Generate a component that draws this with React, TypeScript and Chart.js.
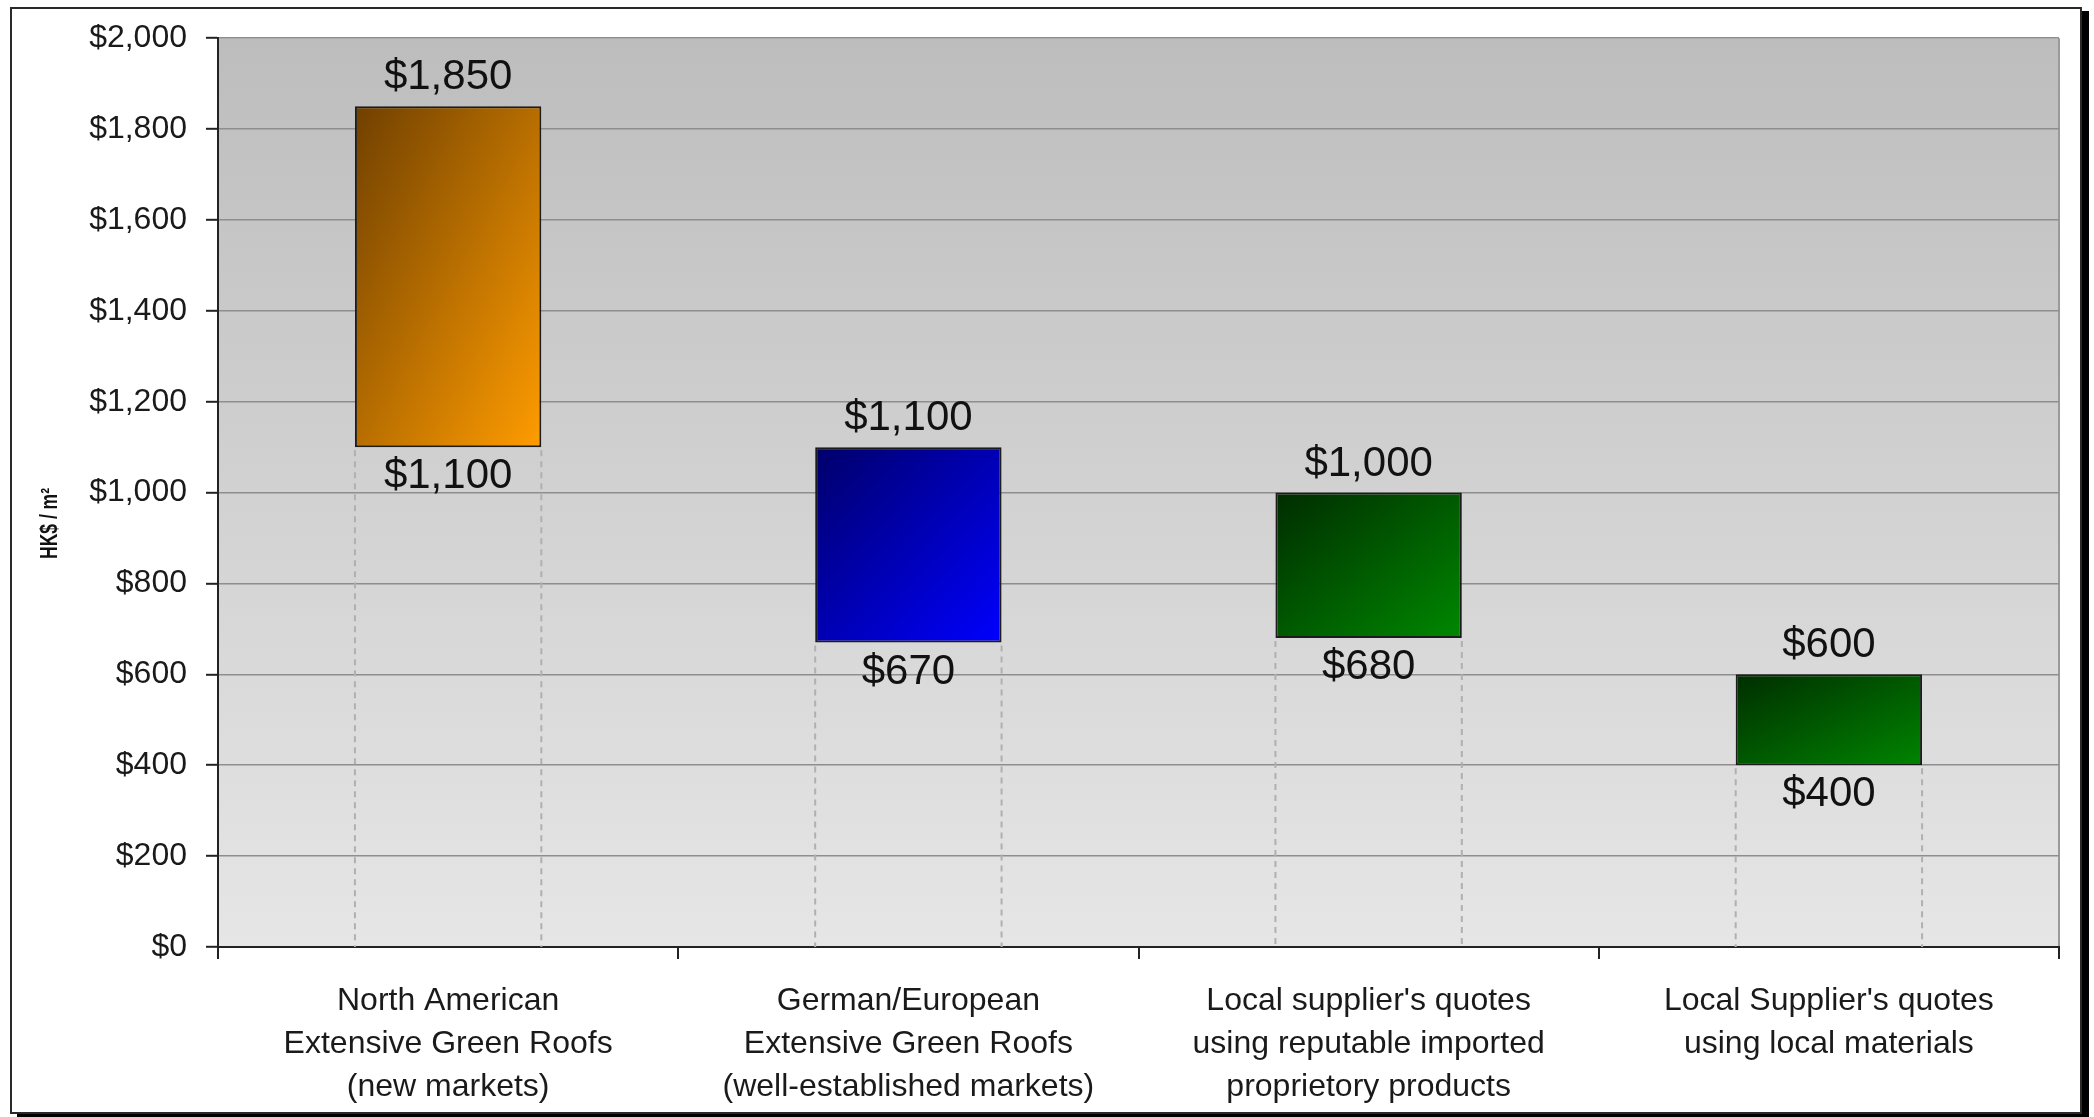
import React, { useEffect, useRef } from "react";
import { Chart, registerables } from "chart.js";

Chart.register(...registerables);

// ---------- data ----------
const categories: string[][] = [
  ["North American", "Extensive Green Roofs", "(new markets)"],
  ["German/European", "Extensive Green Roofs", "(well-established markets)"],
  ["Local supplier's quotes", "using reputable imported", "proprietory products"],
  ["Local Supplier's quotes", "using local materials"],
];
const lowValues: number[] = [1100, 670, 680, 400];
const highValues: number[] = [1850, 1100, 1000, 600];
const yMin = 0;
const yMax = 2000;
const yStep = 200;
const yAxisTitle = "HK$ / m\u00B2";

// ---------- styles ----------
const W = 2094;
const H = 1117;
const FONT = "'Liberation Sans', Arial, Helvetica, sans-serif";
const barStartColors = ["#704000", "#00006a", "#002c00", "#002e00"];
const barEndColors = ["#ff9c00", "#0000ff", "#008800", "#008400"];
const BAR_PCT = 0.405;

const fmt = (v: number) => "$" + Number(v).toLocaleString("en-US");

const framePlugin = {
  id: "frameAndBackground",
  beforeDraw(chart: any) {
    const { ctx, chartArea: a } = chart;
    if (!a) return;
    ctx.save();
    ctx.fillStyle = "#ffffff";
    ctx.fillRect(0, 0, W, H);
    ctx.fillStyle = "#000000";
    ctx.fillRect(17, 11, 2072, 1110);
    ctx.fillStyle = "#ffffff";
    ctx.fillRect(10, 7, 2072, 1107);
    ctx.strokeStyle = "#2a2a2a";
    ctx.lineWidth = 2;
    ctx.strokeRect(11, 8, 2070, 1105);
    const g = ctx.createLinearGradient(0, a.top, 0, a.bottom);
    g.addColorStop(0, "#bdbdbd");
    g.addColorStop(1, "#e6e6e6");
    ctx.fillStyle = g;
    ctx.fillRect(a.left, a.top, a.right - a.left, a.bottom - a.top);
    ctx.strokeStyle = "#9a9a9a";
    ctx.lineWidth = 2;
    ctx.beginPath();
    ctx.moveTo(a.right, a.top);
    ctx.lineTo(a.right, a.bottom);
    ctx.stroke();
    ctx.restore();
  },
};

const dashPlugin = {
  id: "dropLines",
  beforeDatasetsDraw(chart: any) {
    const { ctx, chartArea: a } = chart;
    const meta = chart.getDatasetMeta(0);
    ctx.save();
    ctx.strokeStyle = "#b0b0b0";
    ctx.lineWidth = 2;
    ctx.setLineDash([6, 5]);
    meta.data.forEach((el: any) => {
      const { x, base, width } = el.getProps(["x", "base", "width"], true);
      [x - width / 2, x + width / 2].forEach((px) => {
        ctx.beginPath();
        ctx.moveTo(px, base + 3);
        ctx.lineTo(px, a.bottom);
        ctx.stroke();
      });
    });
    ctx.restore();
  },
};

const labelPlugin = {
  id: "valueLabels",
  afterDatasetsDraw(chart: any) {
    const { ctx } = chart;
    const meta = chart.getDatasetMeta(0);
    ctx.save();
    ctx.fillStyle = "#111111";
    ctx.font = "42px 'Liberation Sans', Arial, sans-serif";
    ctx.textAlign = "center";
    ctx.textBaseline = "alphabetic";
    meta.data.forEach((el: any, i: number) => {
      const { x, y, base } = el.getProps(["x", "y", "base"], true);
      ctx.fillText(fmt(highValues[i]), x, y - 17);
      ctx.fillText(fmt(lowValues[i]), x, base + 41);
    });
    ctx.restore();
  },
};

const titlePlugin = {
  id: "yTitle",
  afterDraw(chart: any) {
    const { ctx, chartArea: a } = chart;
    ctx.save();
    ctx.fillStyle = "#111111";
    ctx.font = "bold 23px 'Liberation Sans', Arial, sans-serif";
    ctx.textAlign = "center";
    ctx.textBaseline = "middle";
    ctx.translate(51, a.top + (a.bottom - a.top) * 0.534);
    ctx.rotate(-Math.PI / 2);
    ctx.scale(0.76, 1);
    ctx.fillText(yAxisTitle, 0, 0);
    ctx.restore();
  },
};

export default function App() {
  const ref = useRef<HTMLCanvasElement | null>(null);

  useEffect(() => {
    if (!ref.current) return;
    const chart = new Chart(ref.current, {
      type: "bar",
      data: {
        labels: categories as any,
        datasets: [
          {
            data: lowValues.map((lo, i) => [lo, highValues[i]]) as any,
            backgroundColor: (c: any) => {
              const i = c.dataIndex ?? 0;
              const chart = c.chart;
              const xs = chart.scales?.x;
              const ys = chart.scales?.y;
              if (!chart.chartArea || !xs || !ys || c.type !== "data") return barEndColors[i];
              const cx = xs.getPixelForValue(i);
              const w = ((xs.right - xs.left) / categories.length) * BAR_PCT;
              const x0 = cx - w / 2;
              const y0 = ys.getPixelForValue(highValues[i]);
              const h = ys.getPixelForValue(lowValues[i]) - y0;
              const k = (2 * w * h) / (h * h + w * w);
              const g = chart.ctx.createLinearGradient(x0, y0, x0 + h * k, y0 + w * k);
              g.addColorStop(0, barStartColors[i]);
              g.addColorStop(1, barEndColors[i]);
              return g;
            },
            borderColor: "#1c1c1c",
            borderWidth: 2,
            borderSkipped: false,
            barPercentage: BAR_PCT,
            categoryPercentage: 1,
          },
        ],
      },
      options: {
        responsive: false,
        animation: false,
        devicePixelRatio: 1,
        layout: { padding: { left: 0, top: 36, right: 35, bottom: 0 } },
        plugins: {
          legend: { display: false },
          tooltip: { enabled: false },
        },
        scales: {
          x: {
            offset: true,
            grid: {
              offset: true,
              drawOnChartArea: false,
              drawTicks: true,
              tickLength: 12,
              tickColor: "#222222",
              tickWidth: 2,
              lineWidth: 2,
              color: "#222222",
            },
            border: { color: "#222222", width: 2 },
            ticks: {
              autoSkip: false,
              maxRotation: 0,
              minRotation: 0,
              padding: 21,
              color: "#1a1a1a",
              font: { family: FONT, size: 32, lineHeight: 1.34 },
            },
            afterFit: (scale: any) => {
              scale.height = 170;
            },
          },
          y: {
            min: yMin,
            max: yMax,
            grid: {
              color: "#8e8e8e",
              lineWidth: 1.6,
              tickLength: 12,
              tickColor: "#222222",
              tickWidth: 2,
            },
            border: { color: "#222222", width: 2 },
            ticks: {
              stepSize: yStep,
              padding: 19,
              color: "#1a1a1a",
              font: { family: FONT, size: 32 },
              callback: (v: any) => fmt(Number(v)),
            },
            afterFit: (scale: any) => {
              scale.width = 218;
            },
          },
        },
      } as any,
      plugins: [framePlugin, dashPlugin, labelPlugin, titlePlugin],
    });
    return () => chart.destroy();
  }, []);

  return (
    <div style={{ position: "fixed", left: 0, top: 0, width: W, height: H }}>
      <canvas ref={ref} width={W} height={H} style={{ width: W, height: H, display: "block" }} />
    </div>
  );
}
